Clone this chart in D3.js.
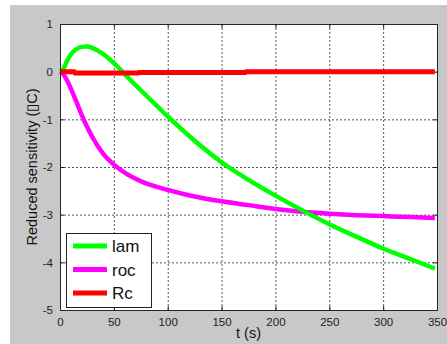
<!DOCTYPE html>
<html>
<head>
<meta charset="utf-8">
<script src="https://cdn.jsdelivr.net/npm/d3@7"></script>
<style>
  body { margin: 0; background: #fff; }
  svg { display: block; font-family: "Liberation Sans", Arial, sans-serif; }
</style>
</head>
<body>
<svg id="chart"></svg>
<script>
const tLam = [0, 3, 6, 10, 15, 20, 25, 30, 40, 50, 60, 70, 80, 90, 100, 125, 150, 175, 200, 225, 250, 275, 300, 325, 348];
const lam  = [0, 0.05, 0.2, 0.36, 0.47, 0.52, 0.53, 0.5, 0.37, 0.18, -0.05, -0.28, -0.5, -0.72, -0.94, -1.45, -1.9, -2.27, -2.6, -2.91, -3.2, -3.46, -3.71, -3.93, -4.13];
const tRoc = [0, 3, 5, 10, 15, 20, 25, 30, 40, 50, 60, 75, 100, 125, 150, 175, 200, 225, 250, 275, 300, 325, 348];
const roc  = [0, -0.05, -0.12, -0.35, -0.62, -0.9, -1.15, -1.37, -1.72, -1.95, -2.12, -2.3, -2.48, -2.62, -2.72, -2.8, -2.88, -2.94, -2.98, -3.01, -3.03, -3.05, -3.07];
const tRc  = [0, 13, 14, 72, 73, 172, 173, 348];
const rc   = [0, 0, -0.03, -0.03, -0.015, -0.015, 0, 0];

const xTicks = [0, 50, 100, 150, 200, 250, 300, 350];
const yTicks = [1, 0, -1, -2, -3, -4, -5];
const seriesNames = ["lam", "roc", "Rc"];
const seriesColors = ["#00ff00", "#ff00ff", "#ff0000"];

const width = 447, height = 344;
const margin = {top: 24, right: 10, bottom: 34, left: 60};

const svg = d3.select("#chart").attr("width", width).attr("height", height);

// grey figure background
svg.append("rect").attr("x", 10).attr("y", 5)
    .attr("width", width - 10).attr("height", height - 5)
    .attr("fill", "#c8c8c8");

const x = d3.scaleLinear().domain([0, 350]).range([margin.left, width - margin.right]);
const y = d3.scaleLinear().domain([-5, 1]).range([height - margin.bottom, margin.top]);

svg.append("rect")
    .attr("x", x(0)).attr("y", y(1))
    .attr("width", x(350) - x(0)).attr("height", y(-5) - y(1))
    .attr("fill", "#fff");

// dotted grid
const grid = svg.append("g").attr("stroke", "#555").attr("stroke-dasharray", "2,2").attr("stroke-width", 1);
xTicks.slice(1, -1).forEach(t => {
    grid.append("line").attr("x1", x(t) + 0.5).attr("x2", x(t) + 0.5)
        .attr("y1", y(1)).attr("y2", y(-5));
});
yTicks.slice(1, -1).forEach(v => {
    grid.append("line").attr("y1", y(v) + 0.5).attr("y2", y(v) + 0.5)
        .attr("x1", x(0)).attr("x2", x(350));
});

const fmt = d => String(d);

const xAxis = g => g
    .attr("transform", `translate(0,${y(-5)})`)
    .call(d3.axisBottom(x).tickValues(xTicks).tickFormat(fmt).tickSizeInner(-4).tickSizeOuter(0).tickPadding(8))
    .call(g => g.select(".domain").remove());

const yAxis = g => g
    .attr("transform", `translate(${x(0)},0)`)
    .call(d3.axisLeft(y).tickValues(yTicks).tickFormat(fmt).tickSizeInner(-4).tickSizeOuter(0).tickPadding(7))
    .call(g => g.select(".domain").remove());

svg.append("g").call(xAxis);
svg.append("g").call(yAxis);

// ticks on top/right
svg.append("g").attr("transform", `translate(0,${y(1)})`)
    .call(d3.axisTop(x).tickValues(xTicks).tickSizeInner(-4).tickSizeOuter(0).tickFormat(""))
    .call(g => g.select(".domain").remove());
svg.append("g").attr("transform", `translate(${x(350)},0)`)
    .call(d3.axisRight(y).tickValues(yTicks).tickSizeInner(-4).tickSizeOuter(0).tickFormat(""))
    .call(g => g.select(".domain").remove());

svg.selectAll(".tick text").attr("font-size", 11.5).attr("fill", "#222")
    .attr("font-family", "'Liberation Sans', Arial, sans-serif");
svg.selectAll(".tick line").attr("stroke", "#222");

const line = d3.line().x(d => x(d[0])).y(d => y(d[1])).curve(d3.curveMonotoneX);
const stepLine = d3.line().x(d => x(d[0])).y(d => y(d[1]));

const plot = svg.append("g");
plot.append("path")
    .datum(d3.zip(tRoc, roc))
    .attr("fill", "none").attr("stroke", seriesColors[1]).attr("stroke-width", 4.5)
    .attr("stroke-linejoin", "round")
    .attr("d", line);
plot.append("path")
    .datum(d3.zip(tLam, lam))
    .attr("fill", "none").attr("stroke", seriesColors[0]).attr("stroke-width", 4.5)
    .attr("stroke-linejoin", "round")
    .attr("d", line);
plot.append("path")
    .datum(d3.zip(tRc, rc))
    .attr("fill", "none").attr("stroke", seriesColors[2]).attr("stroke-width", 5)
    .attr("d", stepLine);

// axes box
svg.append("rect")
    .attr("x", x(0) + 0.5).attr("y", y(1) + 0.5)
    .attr("width", x(350) - x(0)).attr("height", y(-5) - y(1))
    .attr("fill", "none").attr("stroke", "#262626").attr("stroke-width", 1);

// axis labels
svg.append("text")
    .attr("x", (x(0) + x(350)) / 2).attr("y", 338)
    .attr("text-anchor", "middle").attr("font-size", 14.5).attr("fill", "#111")
    .text("t (s)");
svg.append("text")
    .attr("transform", `translate(37,${(y(1) + y(-5)) / 2}) rotate(-90)`)
    .attr("text-anchor", "middle").attr("font-size", 14.5).attr("fill", "#111")
    .text("Reduced sensitivity (\u25AFC)");

// legend
const legend = svg.append("g").attr("transform", "translate(66,233)");
legend.append("rect").attr("x", 0.5).attr("y", 0.5).attr("width", 85).attr("height", 74)
    .attr("fill", "#fff").attr("stroke", "#222");
seriesNames.forEach((name, i) => {
    const yy = 13 + i * 23.5;
    legend.append("line").attr("x1", 7).attr("x2", 41).attr("y1", yy).attr("y2", yy)
        .attr("stroke", seriesColors[i]).attr("stroke-width", 5);
    legend.append("text").attr("x", 46).attr("y", yy + 6)
        .attr("font-size", 17).attr("fill", "#111").text(name);
});
</script>
</body>
</html>
